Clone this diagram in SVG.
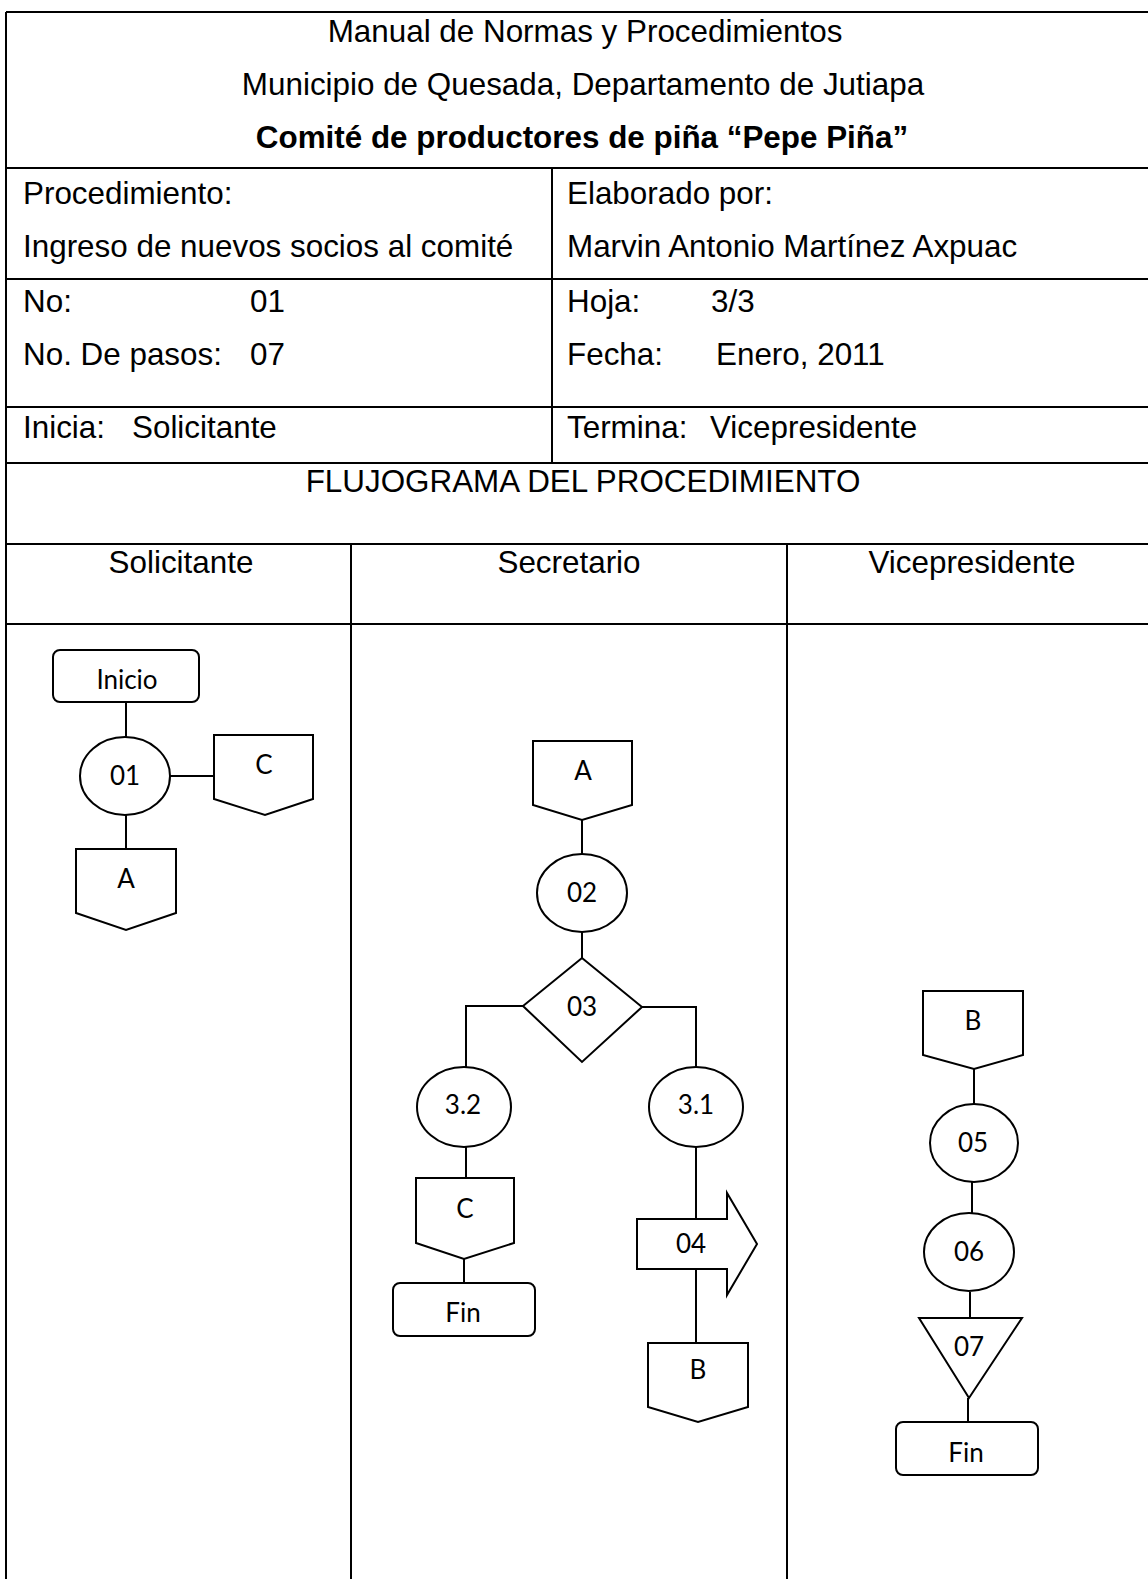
<svg xmlns="http://www.w3.org/2000/svg" width="1148" height="1579" viewBox="0 0 1148 1579">
<style>
.bg{fill:#ffffff}
.grid{stroke:#000;stroke-width:2;fill:none}
.h{font-family:"Liberation Sans",Arial,sans-serif;font-size:31.4px;fill:#000}
.hb{font-weight:bold}
.c{text-anchor:middle}
.shape{stroke:#000;stroke-width:2;fill:#fff}
.lbl{font-family:Lato,"Open Sans",sans-serif;font-size:26px;fill:#000;text-anchor:middle}
.conn line, .conn polyline{stroke:#000;stroke-width:2;fill:none}
</style>
<rect class="bg" x="0" y="0" width="1148" height="1579"/>

<g id="table" class="grid">
  <line x1="6" y1="12" x2="1148" y2="12"/>
  <line x1="6" y1="12" x2="6" y2="1579"/>
  <line x1="6" y1="168" x2="1148" y2="168"/>
  <line x1="6" y1="279" x2="1148" y2="279"/>
  <line x1="6" y1="407" x2="1148" y2="407"/>
  <line x1="6" y1="463" x2="1148" y2="463"/>
  <line x1="6" y1="544" x2="1148" y2="544"/>
  <line x1="6" y1="624" x2="1148" y2="624"/>
  <line x1="552" y1="168" x2="552" y2="463"/>
  <line x1="351" y1="544" x2="351" y2="1579"/>
  <line x1="787" y1="544" x2="787" y2="1579"/>
</g>

<g id="header-text">
  <text class="h c" x="585" y="42">Manual de Normas y Procedimientos</text>
  <text class="h c" x="583" y="95">Municipio de Quesada, Departamento de Jutiapa</text>
  <text class="h hb c" x="582" y="148">Comité de productores de piña “Pepe Piña”</text>
  <text class="h" x="23" y="204">Procedimiento:</text>
  <text class="h" x="23" y="257">Ingreso de nuevos socios al comité</text>
  <text class="h" x="567" y="204">Elaborado por:</text>
  <text class="h" x="567" y="257">Marvin Antonio Martínez Axpuac</text>
  <text class="h" x="23" y="312">No:</text>
  <text class="h" x="250" y="312">01</text>
  <text class="h" x="23" y="365">No. De pasos:</text>
  <text class="h" x="250" y="365">07</text>
  <text class="h" x="567" y="312">Hoja:</text>
  <text class="h" x="711" y="312">3/3</text>
  <text class="h" x="567" y="365">Fecha:</text>
  <text class="h" x="716" y="365">Enero, 2011</text>
  <text class="h" x="23" y="438">Inicia:</text>
  <text class="h" x="132" y="438">Solicitante</text>
  <text class="h" x="567" y="438">Termina:</text>
  <text class="h" x="710" y="438">Vicepresidente</text>
  <text class="h c" x="583" y="492">FLUJOGRAMA DEL PROCEDIMIENTO</text>
  <text class="h c" x="181" y="573">Solicitante</text>
  <text class="h c" x="569" y="573">Secretario</text>
  <text class="h c" x="972" y="573">Vicepresidente</text>
</g>

<g id="connectors" class="conn">
  <line x1="126" y1="702" x2="126" y2="737"/>
  <line x1="170" y1="776" x2="214" y2="776"/>
  <line x1="126" y1="814" x2="126" y2="849"/>
  <line x1="582" y1="820" x2="582" y2="854"/>
  <line x1="582" y1="932" x2="582" y2="958"/>
  <polyline points="523,1006 466,1006 466,1067"/>
  <polyline points="642,1007 696,1007 696,1067"/>
  <line x1="466" y1="1147" x2="466" y2="1178"/>
  <line x1="464" y1="1259" x2="464" y2="1283"/>
  <line x1="696" y1="1147" x2="696" y2="1219"/>
  <line x1="696" y1="1269" x2="696" y2="1343"/>
  <line x1="974" y1="1069" x2="974" y2="1104"/>
  <line x1="972" y1="1182" x2="972" y2="1213"/>
  <line x1="970" y1="1292" x2="970" y2="1318"/>
  <line x1="968" y1="1398" x2="968" y2="1422"/>
</g>

<g id="n-inicio">
  <rect class="shape" x="53" y="650" width="146" height="52" rx="7"/>
  <text class="lbl" x="127" y="689">Inicio</text>
</g>
<g id="n-01">
  <ellipse class="shape" cx="125" cy="776" rx="45" ry="39"/>
  <text class="lbl" x="125" y="785">01</text>
</g>
<g id="n-c1">
  <polygon class="shape" points="214,735 313,735 313,799 265,815 214,799"/>
  <text class="lbl" x="264" y="774">C</text>
</g>
<g id="n-a1">
  <polygon class="shape" points="76,849 176,849 176,913 126,930 76,913"/>
  <text class="lbl" x="126" y="888">A</text>
</g>

<g id="n-a2">
  <polygon class="shape" points="533,741 632,741 632,805 582,820 533,805"/>
  <text class="lbl" x="583" y="780">A</text>
</g>
<g id="n-02">
  <ellipse class="shape" cx="582" cy="893" rx="45" ry="39"/>
  <text class="lbl" x="582" y="902">02</text>
</g>
<g id="n-03">
  <polygon class="shape" points="582,958 642,1007 582,1062 523,1006"/>
  <text class="lbl" x="582" y="1016">03</text>
</g>
<g id="n-32">
  <ellipse class="shape" cx="464" cy="1107" rx="47" ry="40"/>
  <text class="lbl" x="463" y="1114">3.2</text>
</g>
<g id="n-31">
  <ellipse class="shape" cx="696" cy="1107" rx="47" ry="40"/>
  <text class="lbl" x="696" y="1114">3.1</text>
</g>
<g id="n-c2">
  <polygon class="shape" points="416,1178 514,1178 514,1243 464,1259 416,1243"/>
  <text class="lbl" x="465" y="1218">C</text>
</g>
<g id="n-fin1">
  <rect class="shape" x="393" y="1283" width="142" height="53" rx="7"/>
  <text class="lbl" x="463" y="1322">Fin</text>
</g>
<g id="n-04">
  <polygon class="shape" points="637,1219 727,1219 727,1193 757,1244 727,1295 727,1269 637,1269"/>
  <text class="lbl" x="691" y="1253">04</text>
</g>
<g id="n-b1">
  <polygon class="shape" points="648,1343 748,1343 748,1407 698,1422 648,1407"/>
  <text class="lbl" x="698" y="1379">B</text>
</g>

<g id="n-b2">
  <polygon class="shape" points="923,991 1023,991 1023,1055 974,1069 923,1055"/>
  <text class="lbl" x="973" y="1030">B</text>
</g>
<g id="n-05">
  <ellipse class="shape" cx="974" cy="1143" rx="44" ry="39"/>
  <text class="lbl" x="973" y="1152">05</text>
</g>
<g id="n-06">
  <ellipse class="shape" cx="969" cy="1252" rx="45" ry="39"/>
  <text class="lbl" x="969" y="1261">06</text>
</g>
<g id="n-07">
  <polygon class="shape" points="919,1318 1022,1318 969,1398"/>
  <text class="lbl" x="969" y="1356">07</text>
</g>
<g id="n-fin2">
  <rect class="shape" x="896" y="1422" width="142" height="53" rx="7"/>
  <text class="lbl" x="966" y="1462">Fin</text>
</g>
</svg>
